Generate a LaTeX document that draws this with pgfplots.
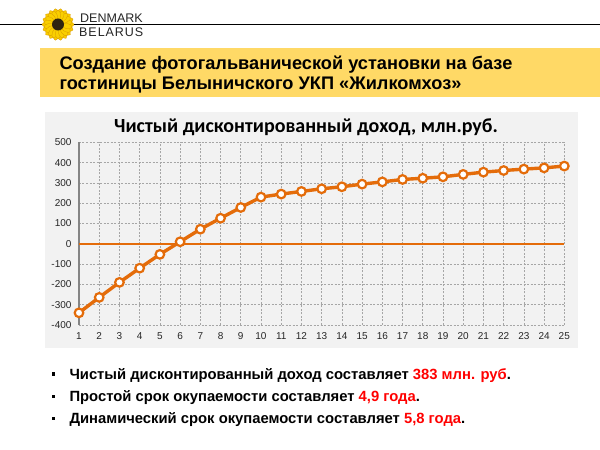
\documentclass[border=0pt]{standalone}
\usepackage{fontspec}
\setmainfont{Liberation Sans}
\newfontfamily\carlito{Carlito}
\usepackage{pgfplots}
\pgfplotsset{compat=1.18}
\definecolor{band}{HTML}{FFD966}
\definecolor{panel}{HTML}{F2F2F2}
\definecolor{orng}{HTML}{E46C0A}
\definecolor{gridc}{HTML}{A6A6A6}
\definecolor{petal}{HTML}{F8CA00}
\definecolor{petaldark}{HTML}{D99A00}
\definecolor{seed}{HTML}{2E2410}
\begin{document}
\begin{tikzpicture}[x=1pt,y=1pt]
\path[use as bounding box, fill=white] (0,0) rectangle (600,450);
\draw[black, line width=1pt] (0,425) -- (600,425);
% sunflower logo
\begin{scope}[shift={(58,425.5)}]
\foreach \a in {0,20,...,340} \filldraw[fill=petal, draw=petaldark, line width=0.3pt, rotate=\a] (10.2,0) ellipse (5.8 and 2.8);
\foreach \a in {10,30,...,350} \filldraw[fill=petal!90!yellow, draw=petaldark, line width=0.3pt, rotate=\a] (9,0) ellipse (5.2 and 2.6);
\fill[seed] (0,0) circle (6);
\end{scope}
\node[anchor=base west, inner sep=0, font=\fontsize{12.5}{14}\selectfont, text=black!85] at (80,427) {DENMARK};
\node[anchor=base west, inner sep=0, font=\fontsize{12.5}{14}\selectfont, text=black!85] at (79,413) {\makebox[64pt][s]{B\hfil E\hfil L\hfil A\hfil R\hfil U\hfil S}};
% title band
\fill[band] (40,352.7) rectangle (600,401.7);
\node[anchor=base west, inner sep=0, font=\bfseries\fontsize{18.2}{20}\selectfont] at (59.3,380.7) {Создание фотогальванической установки на базе};
\node[anchor=base west, inner sep=0, font=\bfseries\fontsize{18.2}{20}\selectfont] at (59.3,360) {гостиницы Белыничского УКП «Жилкомхоз»};
% chart panel
\fill[panel] (45,102) rectangle (578,338.3);
\node[anchor=base, inner sep=0, font=\carlito\bfseries\fontsize{20}{22}\selectfont] at (306,317.3) {Чистый дисконтированный доход, млн.руб.};
\begin{axis}[
  at={(79pt,125pt)}, anchor=south west, scale only axis,
  width=485.3pt, height=182.7pt,
  xmin=1, xmax=25, ymin=-400, ymax=500,
  xtick={1,...,25}, ytick={-400,-300,...,500},
  grid=major,
  grid style={gridc, dash pattern=on 2pt off 1.5pt, line width=0.6pt},
  axis line style={draw=none},
  major tick length=0,
  tick label style={font=\fontsize{10}{11}\selectfont, text=black!85},
  /pgf/number format/assume math mode=true,
  yticklabel style={xshift=-4pt},
  xticklabel style={yshift=-4pt},
  clip=false,
]
\draw[gridc!80!black, line width=1.2pt] (axis cs:1,-400) -- (axis cs:1,500);
\addplot[orng, line width=2pt] coordinates {(1,0) (25,0)};
\addplot[orng, line width=3.4pt, mark=*, mark size=4.3pt,
  mark options={fill=white, draw=orng, line width=2.2pt}] coordinates {
(1,-340) (2,-264) (3,-190) (4,-120) (5,-52) (6,10) (7,72) (8,126) (9,179)
(10,230) (11,245) (12,258) (13,271) (14,281) (15,294) (16,305) (17,317)
(18,323) (19,330) (20,342) (21,353) (22,361) (23,368) (24,374) (25,383)
};
\end{axis}
% bullets
\fill[black] (51.9,74.4) rectangle ++(3.2,3.2);
\fill[black] (51.9,51.9) rectangle ++(3.2,3.2);
\fill[black] (51.9,30.2) rectangle ++(3.2,3.2);
\node[anchor=base west, inner sep=0, font=\bfseries\fontsize{14.8}{16}\selectfont] at (69.3,70.7) {Чистый дисконтированный доход составляет \textcolor{red}{383 млн. руб}.};
\node[anchor=base west, inner sep=0, font=\bfseries\fontsize{14.8}{16}\selectfont] at (69.3,48.2) {Простой срок окупаемости составляет \textcolor{red}{4,9 года}.};
\node[anchor=base west, inner sep=0, font=\bfseries\fontsize{14.8}{16}\selectfont] at (69.3,26.7) {Динамический срок окупаемости составляет \textcolor{red}{5,8 года}.};
\end{tikzpicture}
\end{document}
